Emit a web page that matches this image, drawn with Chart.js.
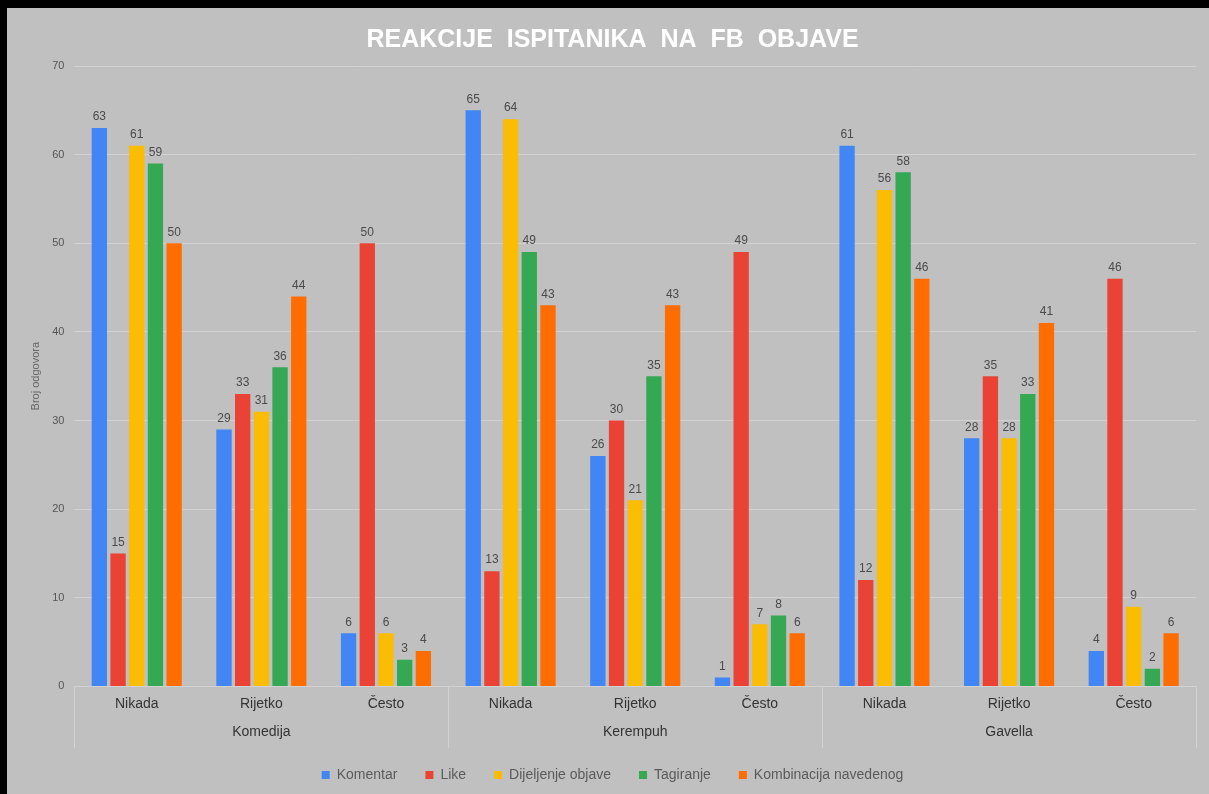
<!DOCTYPE html>
<html>
<head>
<meta charset="utf-8">
<script src="https://cdn.jsdelivr.net/npm/chart.js@4/dist/chart.umd.min.js"></script>
<style>
  html, body { margin: 0; padding: 0; background: #000; width: 1209px; height: 794px; overflow: hidden; }
  #wrap { position: absolute; left: 7px; top: 8px; width: 1202px; height: 786px; background: #c0c0c0; }
  canvas { display: block; }
</style>
</head>
<body>
<div id="wrap"><canvas id="c" width="1202" height="786"></canvas></div>
<script>
const categories = ['Nikada', 'Rijetko', 'Često', 'Nikada', 'Rijetko', 'Često', 'Nikada', 'Rijetko', 'Često'];
const groups = ['Komedija', 'Kerempuh', 'Gavella'];
const seriesNames = ['Komentar', 'Like', 'Dijeljenje objave', 'Tagiranje', 'Kombinacija navedenog'];
const komentar = [63, 29, 6, 65, 26, 1, 61, 28, 4];
const like = [15, 33, 50, 13, 30, 49, 12, 35, 46];
const dijeljenje = [61, 31, 6, 64, 21, 7, 56, 28, 9];
const tagiranje = [59, 36, 3, 49, 35, 8, 58, 33, 2];
const kombinacija = [50, 44, 4, 43, 43, 6, 46, 41, 6];
const yTicks = [0, 10, 20, 30, 40, 50, 60, 70];

const colors = ['#4285F4', '#EA4335', '#FBBC04', '#34A853', '#FF6D01'];
const values = [komentar, like, dijeljenje, tagiranje, kombinacija];
const FONT = "'Liberation Sans', Arial, sans-serif";

const valueLabels = {
  id: 'valueLabels',
  afterDatasetsDraw(chart) {
    const ctx = chart.ctx;
    ctx.save();
    ctx.font = '12px ' + FONT;
    ctx.fillStyle = '#4a4a4a';
    ctx.textAlign = 'center';
    ctx.textBaseline = 'bottom';
    chart.data.datasets.forEach((ds, di) => {
      const meta = chart.getDatasetMeta(di);
      meta.data.forEach((bar, i) => {
        ctx.fillText(String(ds.data[i]), bar.x, bar.y - 5);
      });
    });
    ctx.restore();
  }
};

const groupLines = {
  id: 'groupLines',
  afterDraw(chart) {
    const x = chart.scales.x, x2 = chart.scales.x2;
    const ctx = chart.ctx;
    const top = chart.chartArea.bottom;
    const bottom = x2.top + 27;
    const pos = [x.left];
    for (let g = 1; g < groups.length; g++) {
      const i = g * 3;
      pos.push((x.getPixelForTick(i - 1) + x.getPixelForTick(i)) / 2);
    }
    pos.push(x.right);
    ctx.save();
    ctx.strokeStyle = '#d2d2d2';
    ctx.lineWidth = 1;
    pos.forEach(p => {
      const px = Math.round(p) + 0.5;
      ctx.beginPath();
      ctx.moveTo(px, top);
      ctx.lineTo(px, bottom);
      ctx.stroke();
    });
    ctx.restore();
  }
};

new Chart(document.getElementById('c'), {
  type: 'bar',
  data: {
    labels: categories,
    datasets: seriesNames.map((n, k) => ({
      label: n,
      data: values[k],
      backgroundColor: colors[k],
      borderWidth: 0,
      categoryPercentage: 0.75,
      barPercentage: 0.82
    }))
  },
  options: {
    responsive: false,
    animation: false,
    devicePixelRatio: 1,
    layout: { padding: { left: 22, right: 13, top: 13, bottom: 2 } },
    plugins: {
      title: {
        display: true,
        text: 'REAKCIJE  ISPITANIKA  NA  FB  OBJAVE',
        color: '#ffffff',
        font: { family: FONT, size: 25, weight: 'bold' },
        padding: { top: 4, bottom: 11 }
      },
      legend: {
        position: 'bottom',
        labels: {
          boxWidth: 8,
          boxHeight: 8,
          color: '#5a5a5a',
          font: { family: FONT, size: 14 },
          padding: 28
        }
      },
      tooltip: { enabled: false }
    },
    scales: {
      x: {
        grid: { display: false, drawTicks: false },
        border: { display: false },
        ticks: { color: '#333333', font: { family: FONT, size: 14 }, padding: 9 }
      },
      x2: {
        type: 'category',
        labels: groups,
        position: 'bottom',
        offset: true,
        grid: { display: false, drawTicks: false },
        border: { display: false },
        ticks: { color: '#333333', font: { family: FONT, size: 14 }, padding: 3 },
        afterFit(scale) { scale.height -= 4; }
      },
      y: {
        min: 0,
        max: 70,
        afterBuildTicks(scale) { scale.ticks = yTicks.map(v => ({ value: v })); },
        grid: { color: '#d2d2d2', drawTicks: false },
        border: { display: false },
        ticks: { color: '#555555', font: { family: FONT, size: 11 }, padding: 10 },
        title: { display: true, text: 'Broj odgovora', color: '#666666', font: { family: FONT, size: 11 }, padding: 0 }
      }
    }
  },
  plugins: [valueLabels, groupLines]
});
</script>
</body>
</html>
